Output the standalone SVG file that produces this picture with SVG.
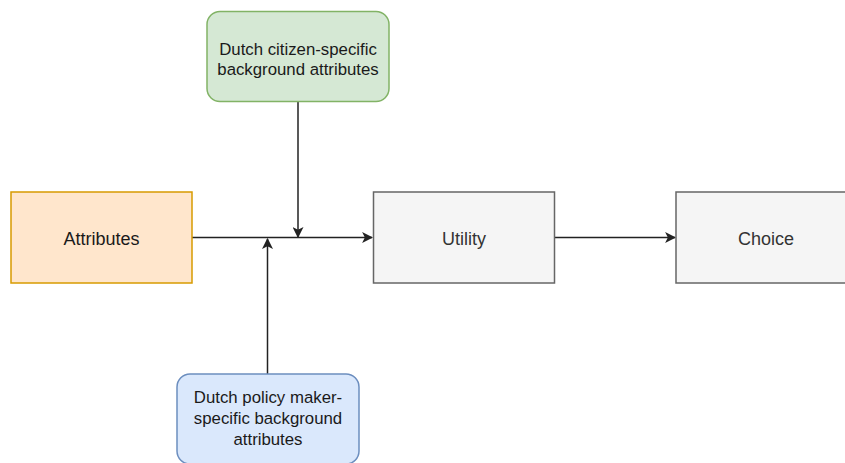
<svg xmlns="http://www.w3.org/2000/svg" width="845" height="463" viewBox="0 0 845 463">
  <style>
    .lbl { font-family: "Liberation Sans", Arial, Helvetica, sans-serif; fill: #1a1a1a; text-anchor: middle; }
    .big { font-size: 18px; }
    .small { font-size: 16.8px; }
    .grey { fill: #333333; }
    .edge { stroke: #222222; stroke-width: 1.5; fill: none; }
  </style>
  <defs>
    <marker id="arrow" viewBox="0 0 10 10" refX="9" refY="5" markerWidth="11" markerHeight="11" markerUnits="userSpaceOnUse" orient="auto">
      <path d="M0,0 L10,5 L0,10 L2.5,5 Z" fill="#222222"/>
    </marker>
  </defs>
  <rect width="845" height="463" fill="#ffffff"/>

  <g id="connectors">
    <path class="edge" d="M192,237.5 L372,237.5" marker-end="url(#arrow)"/>
    <path class="edge" d="M298,102 L298,237" marker-end="url(#arrow)"/>
    <path class="edge" d="M267.5,374 L267.5,239" marker-end="url(#arrow)"/>
    <path class="edge" d="M555,237.5 L675,237.5" marker-end="url(#arrow)"/>
  </g>

  <g id="node-attributes">
    <rect x="11" y="192" width="181" height="91" fill="#ffe6cc" stroke="#d79b00" stroke-width="1.5"/>
    <text class="lbl big" x="101.5" y="244.5">Attributes</text>
  </g>

  <g id="node-citizen">
    <rect x="207" y="11.5" width="182" height="90" rx="13" fill="#d5e8d4" stroke="#82b366" stroke-width="1.5"/>
    <text class="lbl small" x="298" y="55">Dutch citizen-specific</text>
    <text class="lbl small" x="298" y="75">background attributes</text>
  </g>

  <g id="node-policymaker">
    <rect x="177" y="374" width="182" height="90" rx="13" fill="#dae8fc" stroke="#6c8ebf" stroke-width="1.5"/>
    <text class="lbl small" x="268" y="402.5">Dutch policy maker-</text>
    <text class="lbl small" x="268" y="423.5">specific background</text>
    <text class="lbl small" x="268" y="444.5">attributes</text>
  </g>

  <g id="node-utility">
    <rect x="373.5" y="192" width="181" height="91" fill="#f5f5f5" stroke="#666666" stroke-width="1.5"/>
    <text class="lbl big grey" x="464" y="244.5">Utility</text>
  </g>

  <g id="node-choice">
    <rect x="676" y="192" width="181" height="91" fill="#f5f5f5" stroke="#666666" stroke-width="1.5"/>
    <text class="lbl big grey" x="766" y="244.5">Choice</text>
  </g>
</svg>
